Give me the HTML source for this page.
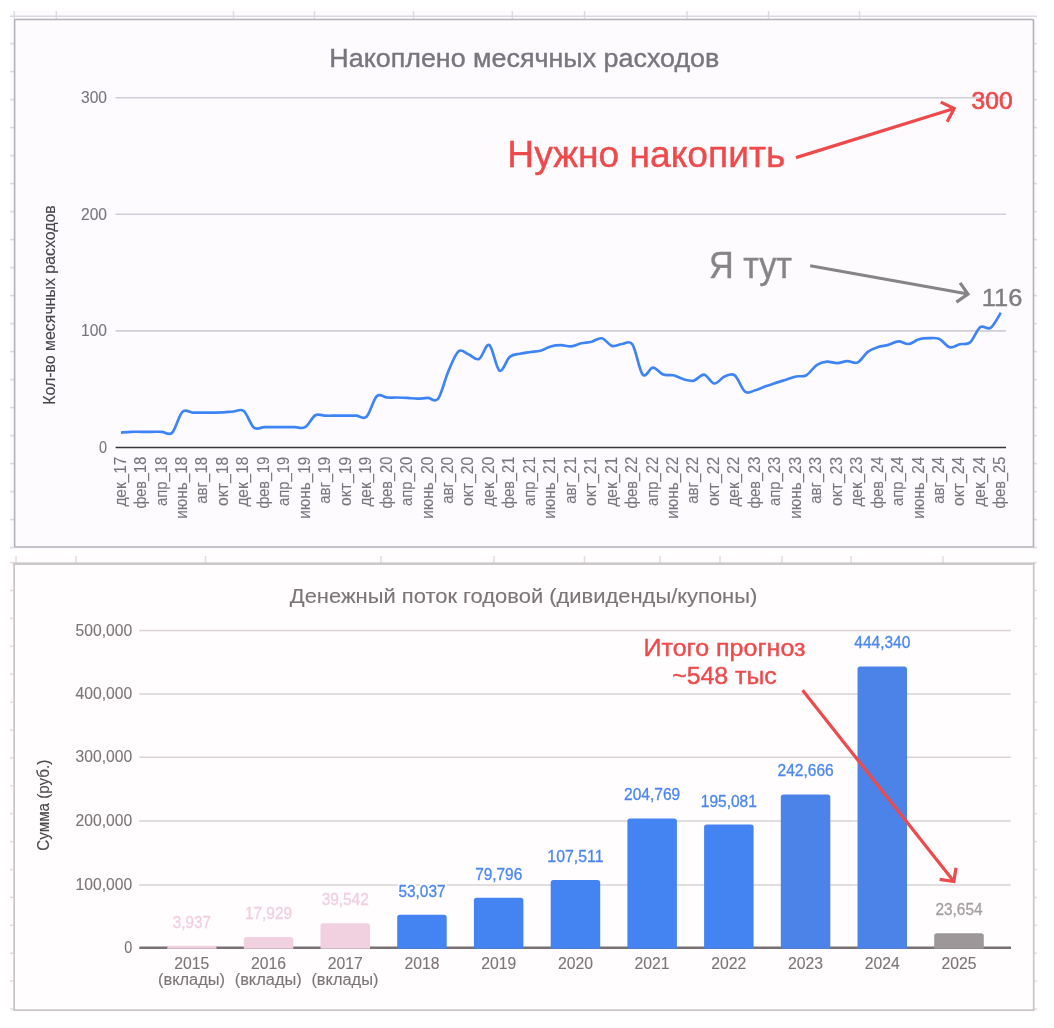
<!DOCTYPE html>
<html lang="ru"><head><meta charset="utf-8"><title>Charts</title>
<style>html,body{margin:0;padding:0;background:#fff;}body{width:1054px;height:1028px;overflow:hidden;}svg{display:block;}text{font-family:'Liberation Sans', sans-serif;}</style>
</head><body>
<svg width="1054" height="1028" viewBox="0 0 1054 1028">
<rect x="10" y="11" width="1027" height="539.5" fill="#fdfbfe"/>
<rect x="10" y="555.8" width="1027" height="456" fill="#fffdfe"/>
<g stroke="#dcdae0" stroke-width="1.5" fill="none">
<path d="M10,16.2H1037"/>
<path d="M14.3,11V19"/>
<path d="M56.3,11V19"/>
<path d="M233.5,11V19"/>
<path d="M314.5,11V19"/>
<path d="M413.5,11V19"/>
<path d="M512.3,11V19"/>
<path d="M584.5,11V19"/>
<path d="M687.0,11V19"/>
<path d="M768.5,11V19"/>
<path d="M859.5,11V19"/>
<path d="M10,43.6H14"/>
<path d="M1033,43.6H1037"/>
<path d="M10,71.6H14"/>
<path d="M1033,71.6H1037"/>
<path d="M10,99.6H14"/>
<path d="M1033,99.6H1037"/>
<path d="M10,127.6H14"/>
<path d="M1033,127.6H1037"/>
<path d="M10,155.6H14"/>
<path d="M1033,155.6H1037"/>
<path d="M10,183.6H14"/>
<path d="M1033,183.6H1037"/>
<path d="M10,211.6H14"/>
<path d="M1033,211.6H1037"/>
<path d="M10,239.6H14"/>
<path d="M1033,239.6H1037"/>
<path d="M10,267.6H14"/>
<path d="M1033,267.6H1037"/>
<path d="M10,295.6H14"/>
<path d="M1033,295.6H1037"/>
<path d="M10,323.6H14"/>
<path d="M1033,323.6H1037"/>
<path d="M10,351.6H14"/>
<path d="M1033,351.6H1037"/>
<path d="M10,379.6H14"/>
<path d="M1033,379.6H1037"/>
<path d="M10,407.6H14"/>
<path d="M1033,407.6H1037"/>
<path d="M10,435.6H14"/>
<path d="M1033,435.6H1037"/>
<path d="M10,463.6H14"/>
<path d="M1033,463.6H1037"/>
<path d="M10,491.6H14"/>
<path d="M1033,491.6H1037"/>
<path d="M10,519.6H14"/>
<path d="M1033,519.6H1037"/>
<path d="M10,547.6H14"/>
<path d="M1033,547.6H1037"/>
</g>
<g stroke="#e3dde0" stroke-width="1.5" fill="none">
<path d="M16.0,556V563"/>
<path d="M76.0,556V563"/>
<path d="M205.5,556V563"/>
<path d="M381.0,556V563"/>
<path d="M494.0,556V563"/>
<path d="M584.5,556V563"/>
<path d="M660.0,556V563"/>
<path d="M720.0,556V563"/>
<path d="M782.0,556V563"/>
<path d="M851.0,556V563"/>
<path d="M943.0,556V563"/>
<path d="M10,562.6H14"/>
<path d="M1033,562.6H1037"/>
<path d="M10,590.5H14"/>
<path d="M1033,590.5H1037"/>
<path d="M10,618.4H14"/>
<path d="M1033,618.4H1037"/>
<path d="M10,646.3H14"/>
<path d="M1033,646.3H1037"/>
<path d="M10,674.2H14"/>
<path d="M1033,674.2H1037"/>
<path d="M10,702.1H14"/>
<path d="M1033,702.1H1037"/>
<path d="M10,730.0H14"/>
<path d="M1033,730.0H1037"/>
<path d="M10,757.9H14"/>
<path d="M1033,757.9H1037"/>
<path d="M10,785.8H14"/>
<path d="M1033,785.8H1037"/>
<path d="M10,813.7H14"/>
<path d="M1033,813.7H1037"/>
<path d="M10,841.6H14"/>
<path d="M1033,841.6H1037"/>
<path d="M10,869.5H14"/>
<path d="M1033,869.5H1037"/>
<path d="M10,897.4H14"/>
<path d="M1033,897.4H1037"/>
<path d="M10,925.3H14"/>
<path d="M1033,925.3H1037"/>
<path d="M10,953.2H14"/>
<path d="M1033,953.2H1037"/>
<path d="M10,981.1H14"/>
<path d="M1033,981.1H1037"/>
<path d="M10,1009.0H14"/>
<path d="M1033,1009.0H1037"/>
</g>
<rect x="14.6" y="19.5" width="1018.9" height="527.5" rx="0.8" fill="#fdfbfe" stroke="#b3b1b9" stroke-width="1.6"/>
<path d="M115.6,97.7H1006" stroke="#d0ced6" stroke-width="1.6"/>
<path d="M115.6,214.3H1006" stroke="#d0ced6" stroke-width="1.6"/>
<path d="M115.6,330.9H1006" stroke="#d0ced6" stroke-width="1.6"/>
<path d="M115.6,447.5H1006" stroke="#37363b" stroke-width="1.5"/>
<text x="329.3" y="67" font-size="26.5" fill="#78767d" textLength="390" lengthAdjust="spacingAndGlyphs" stroke="#78767d" stroke-width="0.4">Накоплено месячных расходов</text>
<text x="107" y="103.0" font-size="16" fill="#78767d" text-anchor="end" textLength="26.0" lengthAdjust="spacingAndGlyphs" stroke="#78767d" stroke-width="0.12">300</text>
<text x="107" y="219.6" font-size="16" fill="#78767d" text-anchor="end" textLength="26.0" lengthAdjust="spacingAndGlyphs" stroke="#78767d" stroke-width="0.12">200</text>
<text x="107" y="336.2" font-size="16" fill="#78767d" text-anchor="end" textLength="26.0" lengthAdjust="spacingAndGlyphs" stroke="#78767d" stroke-width="0.12">100</text>
<text x="107" y="452.9" font-size="16" fill="#78767d" text-anchor="end" textLength="8.0" lengthAdjust="spacingAndGlyphs" stroke="#78767d" stroke-width="0.12">0</text>
<text transform="translate(55,305) rotate(-90)" font-size="16" fill="#47464c" text-anchor="middle" textLength="199.5" lengthAdjust="spacingAndGlyphs" stroke="#47464c" stroke-width="0.12">Кол-во месячных расходов</text>
<g font-size="15.6" fill="#78767d" stroke="#78767d" stroke-width="0.12" text-anchor="end">
<text transform="translate(125.60,456.8) rotate(-90)" textLength="49.8" lengthAdjust="spacingAndGlyphs">дек_17</text>
<text transform="translate(146.06,456.8) rotate(-90)" textLength="51.8" lengthAdjust="spacingAndGlyphs">фев_18</text>
<text transform="translate(166.52,456.8) rotate(-90)" textLength="49.3" lengthAdjust="spacingAndGlyphs">апр_18</text>
<text transform="translate(186.98,456.8) rotate(-90)" textLength="62.0" lengthAdjust="spacingAndGlyphs">июнь_18</text>
<text transform="translate(207.44,456.8) rotate(-90)" textLength="47.0" lengthAdjust="spacingAndGlyphs">авг_18</text>
<text transform="translate(227.90,456.8) rotate(-90)" textLength="49.2" lengthAdjust="spacingAndGlyphs">окт_18</text>
<text transform="translate(248.36,456.8) rotate(-90)" textLength="49.8" lengthAdjust="spacingAndGlyphs">дек_18</text>
<text transform="translate(268.82,456.8) rotate(-90)" textLength="51.8" lengthAdjust="spacingAndGlyphs">фев_19</text>
<text transform="translate(289.28,456.8) rotate(-90)" textLength="49.3" lengthAdjust="spacingAndGlyphs">апр_19</text>
<text transform="translate(309.74,456.8) rotate(-90)" textLength="62.0" lengthAdjust="spacingAndGlyphs">июнь_19</text>
<text transform="translate(330.20,456.8) rotate(-90)" textLength="47.0" lengthAdjust="spacingAndGlyphs">авг_19</text>
<text transform="translate(350.66,456.8) rotate(-90)" textLength="49.2" lengthAdjust="spacingAndGlyphs">окт_19</text>
<text transform="translate(371.12,456.8) rotate(-90)" textLength="49.8" lengthAdjust="spacingAndGlyphs">дек_19</text>
<text transform="translate(391.58,456.8) rotate(-90)" textLength="51.8" lengthAdjust="spacingAndGlyphs">фев_20</text>
<text transform="translate(412.04,456.8) rotate(-90)" textLength="49.3" lengthAdjust="spacingAndGlyphs">апр_20</text>
<text transform="translate(432.50,456.8) rotate(-90)" textLength="62.0" lengthAdjust="spacingAndGlyphs">июнь_20</text>
<text transform="translate(452.96,456.8) rotate(-90)" textLength="47.0" lengthAdjust="spacingAndGlyphs">авг_20</text>
<text transform="translate(473.42,456.8) rotate(-90)" textLength="49.2" lengthAdjust="spacingAndGlyphs">окт_20</text>
<text transform="translate(493.88,456.8) rotate(-90)" textLength="49.8" lengthAdjust="spacingAndGlyphs">дек_20</text>
<text transform="translate(514.34,456.8) rotate(-90)" textLength="51.8" lengthAdjust="spacingAndGlyphs">фев_21</text>
<text transform="translate(534.80,456.8) rotate(-90)" textLength="49.3" lengthAdjust="spacingAndGlyphs">апр_21</text>
<text transform="translate(555.26,456.8) rotate(-90)" textLength="62.0" lengthAdjust="spacingAndGlyphs">июнь_21</text>
<text transform="translate(575.72,456.8) rotate(-90)" textLength="47.0" lengthAdjust="spacingAndGlyphs">авг_21</text>
<text transform="translate(596.18,456.8) rotate(-90)" textLength="49.2" lengthAdjust="spacingAndGlyphs">окт_21</text>
<text transform="translate(616.64,456.8) rotate(-90)" textLength="49.8" lengthAdjust="spacingAndGlyphs">дек_21</text>
<text transform="translate(637.10,456.8) rotate(-90)" textLength="51.8" lengthAdjust="spacingAndGlyphs">фев_22</text>
<text transform="translate(657.56,456.8) rotate(-90)" textLength="49.3" lengthAdjust="spacingAndGlyphs">апр_22</text>
<text transform="translate(678.02,456.8) rotate(-90)" textLength="62.0" lengthAdjust="spacingAndGlyphs">июнь_22</text>
<text transform="translate(698.48,456.8) rotate(-90)" textLength="47.0" lengthAdjust="spacingAndGlyphs">авг_22</text>
<text transform="translate(718.94,456.8) rotate(-90)" textLength="49.2" lengthAdjust="spacingAndGlyphs">окт_22</text>
<text transform="translate(739.40,456.8) rotate(-90)" textLength="49.8" lengthAdjust="spacingAndGlyphs">дек_22</text>
<text transform="translate(759.86,456.8) rotate(-90)" textLength="51.8" lengthAdjust="spacingAndGlyphs">фев_23</text>
<text transform="translate(780.32,456.8) rotate(-90)" textLength="49.3" lengthAdjust="spacingAndGlyphs">апр_23</text>
<text transform="translate(800.78,456.8) rotate(-90)" textLength="62.0" lengthAdjust="spacingAndGlyphs">июнь_23</text>
<text transform="translate(821.24,456.8) rotate(-90)" textLength="47.0" lengthAdjust="spacingAndGlyphs">авг_23</text>
<text transform="translate(841.70,456.8) rotate(-90)" textLength="49.2" lengthAdjust="spacingAndGlyphs">окт_23</text>
<text transform="translate(862.16,456.8) rotate(-90)" textLength="49.8" lengthAdjust="spacingAndGlyphs">дек_23</text>
<text transform="translate(882.62,456.8) rotate(-90)" textLength="51.8" lengthAdjust="spacingAndGlyphs">фев_24</text>
<text transform="translate(903.08,456.8) rotate(-90)" textLength="49.3" lengthAdjust="spacingAndGlyphs">апр_24</text>
<text transform="translate(923.54,456.8) rotate(-90)" textLength="62.0" lengthAdjust="spacingAndGlyphs">июнь_24</text>
<text transform="translate(944.00,456.8) rotate(-90)" textLength="47.0" lengthAdjust="spacingAndGlyphs">авг_24</text>
<text transform="translate(964.46,456.8) rotate(-90)" textLength="49.2" lengthAdjust="spacingAndGlyphs">окт_24</text>
<text transform="translate(984.92,456.8) rotate(-90)" textLength="49.8" lengthAdjust="spacingAndGlyphs">дек_24</text>
<text transform="translate(1005.38,456.8) rotate(-90)" textLength="51.8" lengthAdjust="spacingAndGlyphs">фев_25</text>
</g>
<path d="M121.00,432.60C122.70,432.47 127.82,431.93 131.23,431.80C134.64,431.67 138.05,431.80 141.46,431.80C144.87,431.80 148.28,431.80 151.69,431.80C155.10,431.80 158.51,431.65 161.92,431.80C165.33,431.95 168.74,436.02 172.15,432.70C175.56,429.38 178.97,415.25 182.38,411.90C185.79,408.55 189.20,412.48 192.61,412.60C196.02,412.72 199.43,412.60 202.84,412.60C206.25,412.60 209.66,412.63 213.07,412.60C216.48,412.57 219.89,412.58 223.30,412.40C226.71,412.22 230.12,411.73 233.53,411.50C236.94,411.27 240.35,408.32 243.76,411.00C247.17,413.68 250.58,424.92 253.99,427.60C257.40,430.28 260.81,427.18 264.22,427.10C267.63,427.02 271.04,427.10 274.45,427.10C277.86,427.10 281.27,427.08 284.68,427.10C288.09,427.12 291.50,427.18 294.91,427.20C298.32,427.22 301.73,429.20 305.14,427.20C308.55,425.20 311.96,417.12 315.37,415.20C318.78,413.28 322.19,415.62 325.60,415.70C329.01,415.78 332.42,415.70 335.83,415.70C339.24,415.70 342.65,415.70 346.06,415.70C349.47,415.70 352.88,415.53 356.29,415.70C359.70,415.87 363.11,419.95 366.52,416.70C369.93,413.45 373.34,399.40 376.75,396.20C380.16,393.00 383.57,397.28 386.98,397.50C390.39,397.72 393.80,397.43 397.21,397.50C400.62,397.57 404.03,397.70 407.44,397.90C410.85,398.10 414.26,398.70 417.67,398.70C421.08,398.70 424.49,397.90 427.90,397.90C431.31,397.90 434.72,403.15 438.13,398.70C441.54,394.25 444.95,379.12 448.36,371.20C451.77,363.28 455.18,353.97 458.59,351.20C462.00,348.43 465.41,353.30 468.82,354.60C472.23,355.90 475.64,360.60 479.05,359.00C482.46,357.40 485.87,343.07 489.28,345.00C492.69,346.93 496.10,368.62 499.51,370.60C502.92,372.58 506.33,359.72 509.74,356.90C513.15,354.08 516.56,354.52 519.97,353.70C523.38,352.88 526.79,352.50 530.20,352.00C533.61,351.50 537.02,351.62 540.43,350.70C543.84,349.78 547.25,347.42 550.66,346.50C554.07,345.58 557.48,345.23 560.89,345.20C564.30,345.17 567.71,346.62 571.12,346.30C574.53,345.98 577.94,344.07 581.35,343.30C584.76,342.53 588.17,342.53 591.58,341.70C594.99,340.87 598.40,337.60 601.81,338.30C605.22,339.00 608.63,344.95 612.04,345.90C615.45,346.85 618.86,344.23 622.27,344.00C625.68,343.77 629.09,339.40 632.50,344.50C635.91,349.60 639.32,370.73 642.73,374.60C646.14,378.47 649.55,367.70 652.96,367.70C656.37,367.70 659.78,373.33 663.19,374.60C666.60,375.87 670.01,374.52 673.42,375.30C676.83,376.08 680.24,378.42 683.65,379.30C687.06,380.18 690.47,381.38 693.88,380.60C697.29,379.82 700.70,374.12 704.11,374.60C707.52,375.08 710.93,383.18 714.34,383.50C717.75,383.82 721.16,377.87 724.57,376.50C727.98,375.13 731.39,372.77 734.80,375.30C738.21,377.83 741.62,389.20 745.03,391.70C748.44,394.20 751.85,391.20 755.26,390.30C758.67,389.40 762.08,387.53 765.49,386.30C768.90,385.07 772.31,384.00 775.72,382.90C779.13,381.80 782.54,380.77 785.95,379.70C789.36,378.63 792.77,377.25 796.18,376.50C799.59,375.75 803.00,377.10 806.41,375.20C809.82,373.30 813.23,367.37 816.64,365.10C820.05,362.83 823.46,361.93 826.87,361.60C830.28,361.27 833.69,363.18 837.10,363.10C840.51,363.02 843.92,361.20 847.33,361.10C850.74,361.00 854.15,364.05 857.56,362.50C860.97,360.95 864.38,354.38 867.79,351.80C871.20,349.22 874.61,348.15 878.02,347.00C881.43,345.85 884.84,345.85 888.25,344.90C891.66,343.95 895.07,341.45 898.48,341.30C901.89,341.15 905.30,344.35 908.71,344.00C912.12,343.65 915.53,340.18 918.94,339.20C922.35,338.22 925.76,338.13 929.17,338.10C932.58,338.07 935.99,337.48 939.40,339.00C942.81,340.52 946.22,346.33 949.63,347.20C953.04,348.07 956.45,345.00 959.86,344.20C963.27,343.40 966.68,345.23 970.09,342.40C973.50,339.57 976.91,329.62 980.32,327.20C983.73,324.78 987.14,330.30 990.55,327.90C993.96,325.50 999.08,315.32 1000.78,312.80" fill="none" stroke="#3f84f7" stroke-width="2.7" stroke-linecap="butt" stroke-linejoin="round"/>
<text x="507.3" y="166.8" font-size="36" fill="#ee4a4c" textLength="278" lengthAdjust="spacingAndGlyphs" stroke="#ee4a4c" stroke-width="0.4">Нужно накопить</text>
<path d="M796,157.6L954.2,108.5M940.8,102.1L954.2,108.5L947.2,121.8" fill="none" stroke="#ee4a4c" stroke-width="3.2" stroke-linecap="butt" stroke-linejoin="miter"/>
<text x="971.6" y="108.7" font-size="24" fill="#ee4a4c" stroke="#ee4a4c" stroke-width="0.7" textLength="41" lengthAdjust="spacingAndGlyphs">300</text>
<text x="709" y="277.8" font-size="36" fill="#858585" textLength="83" lengthAdjust="spacingAndGlyphs" stroke="#858585" stroke-width="0.4">Я тут</text>
<path d="M810.2,265.7L968.0,294.05M960.1,282.8L968.0,294.05L956.4,302.1" fill="none" stroke="#858585" stroke-width="3.2" stroke-linecap="butt" stroke-linejoin="miter"/>
<text x="981.8" y="305.8" font-size="24" fill="#7e7e80" textLength="40.6" lengthAdjust="spacingAndGlyphs" stroke="#7e7e80" stroke-width="0.4">116</text>
<rect x="14.1" y="563.7" width="1019.6" height="446.4" fill="#fffdfe" stroke="#c9c5c7" stroke-width="1.7"/>
<path d="M13.2,563.6H1034.5" stroke="#c9c5c7" stroke-width="2.4"/>
<path d="M139.3,885.0H1010.7" stroke="#d9d3d6" stroke-width="1.5"/>
<path d="M139.3,821.1H1010.7" stroke="#d9d3d6" stroke-width="1.5"/>
<path d="M139.3,757.3H1010.7" stroke="#d9d3d6" stroke-width="1.5"/>
<path d="M139.3,694.1H1010.7" stroke="#d9d3d6" stroke-width="1.5"/>
<path d="M139.3,630.6H1010.7" stroke="#d9d3d6" stroke-width="1.5"/>
<path d="M139.3,947.8H1011" stroke="#777174" stroke-width="2.4"/>
<text x="289.8" y="603.4" font-size="20.5" fill="#7c7578" textLength="467.5" lengthAdjust="spacingAndGlyphs" stroke="#7c7578" stroke-width="0.12">Денежный поток годовой (дивиденды/купоны)</text>
<text x="132.2" y="952.7" font-size="16" fill="#7c7578" text-anchor="end" textLength="8.0" lengthAdjust="spacingAndGlyphs" stroke="#7c7578" stroke-width="0.12">0</text>
<text x="132.2" y="889.9" font-size="16" fill="#7c7578" text-anchor="end" textLength="56.6" lengthAdjust="spacingAndGlyphs" stroke="#7c7578" stroke-width="0.12">100,000</text>
<text x="132.2" y="826.0" font-size="16" fill="#7c7578" text-anchor="end" textLength="56.6" lengthAdjust="spacingAndGlyphs" stroke="#7c7578" stroke-width="0.12">200,000</text>
<text x="132.2" y="762.2" font-size="16" fill="#7c7578" text-anchor="end" textLength="56.6" lengthAdjust="spacingAndGlyphs" stroke="#7c7578" stroke-width="0.12">300,000</text>
<text x="132.2" y="699.0" font-size="16" fill="#7c7578" text-anchor="end" textLength="56.6" lengthAdjust="spacingAndGlyphs" stroke="#7c7578" stroke-width="0.12">400,000</text>
<text x="132.2" y="635.5" font-size="16" fill="#7c7578" text-anchor="end" textLength="56.6" lengthAdjust="spacingAndGlyphs" stroke="#7c7578" stroke-width="0.12">500,000</text>
<text transform="translate(49,805.2) rotate(-90)" font-size="16" fill="#4a4849" text-anchor="middle" textLength="91" lengthAdjust="spacingAndGlyphs" stroke="#4a4849" stroke-width="0.12">Сумма (руб.)</text>
<path d="M167.1,948.8V948.6Q167.1,945.8 169.9,945.8H213.8Q216.6,945.8 216.6,948.6V948.8Z" fill="#f1d0df"/>
<text x="191.8" y="927.8" font-size="16" fill="#fffdfe" stroke="#fffdfe" stroke-width="4" stroke-linejoin="round" text-anchor="middle" textLength="38.1" lengthAdjust="spacingAndGlyphs">3,937</text>
<text x="191.8" y="927.8" font-size="16" fill="#f2cfe0" stroke="#f2cfe0" stroke-width="0.3" text-anchor="middle" textLength="38.1" lengthAdjust="spacingAndGlyphs">3,937</text>
<text x="191.8" y="969.4" font-size="16" fill="#7c7578" text-anchor="middle" textLength="35" lengthAdjust="spacingAndGlyphs" stroke="#7c7578" stroke-width="0.12">2015</text>
<text x="191.5" y="985.0" font-size="16" fill="#7c7578" text-anchor="middle" textLength="67" lengthAdjust="spacingAndGlyphs" stroke="#7c7578" stroke-width="0.12">(вклады)</text>
<path d="M243.8,948.8V939.7Q243.8,936.9 246.6,936.9H290.5Q293.3,936.9 293.3,939.7V948.8Z" fill="#f1d0df"/>
<text x="268.5" y="918.9" font-size="16" fill="#fffdfe" stroke="#fffdfe" stroke-width="4" stroke-linejoin="round" text-anchor="middle" textLength="47.1" lengthAdjust="spacingAndGlyphs">17,929</text>
<text x="268.5" y="918.9" font-size="16" fill="#f2cfe0" stroke="#f2cfe0" stroke-width="0.3" text-anchor="middle" textLength="47.1" lengthAdjust="spacingAndGlyphs">17,929</text>
<text x="268.5" y="969.4" font-size="16" fill="#7c7578" text-anchor="middle" textLength="35" lengthAdjust="spacingAndGlyphs" stroke="#7c7578" stroke-width="0.12">2016</text>
<text x="268.2" y="985.0" font-size="16" fill="#7c7578" text-anchor="middle" textLength="67" lengthAdjust="spacingAndGlyphs" stroke="#7c7578" stroke-width="0.12">(вклады)</text>
<path d="M320.5,948.8V926.0Q320.5,923.2 323.3,923.2H367.2Q370.0,923.2 370.0,926.0V948.8Z" fill="#f1d0df"/>
<text x="345.2" y="905.2" font-size="16" fill="#fffdfe" stroke="#fffdfe" stroke-width="4" stroke-linejoin="round" text-anchor="middle" textLength="47.1" lengthAdjust="spacingAndGlyphs">39,542</text>
<text x="345.2" y="905.2" font-size="16" fill="#f2cfe0" stroke="#f2cfe0" stroke-width="0.3" text-anchor="middle" textLength="47.1" lengthAdjust="spacingAndGlyphs">39,542</text>
<text x="345.2" y="969.4" font-size="16" fill="#7c7578" text-anchor="middle" textLength="35" lengthAdjust="spacingAndGlyphs" stroke="#7c7578" stroke-width="0.12">2017</text>
<text x="344.9" y="985.0" font-size="16" fill="#7c7578" text-anchor="middle" textLength="67" lengthAdjust="spacingAndGlyphs" stroke="#7c7578" stroke-width="0.12">(вклады)</text>
<path d="M397.2,948.8V917.5Q397.2,914.7 400.0,914.7H443.9Q446.7,914.7 446.7,917.5V948.8Z" fill="#4483f2"/>
<text x="422.0" y="896.7" font-size="16" fill="#fffdfe" stroke="#fffdfe" stroke-width="4" stroke-linejoin="round" text-anchor="middle" textLength="47.1" lengthAdjust="spacingAndGlyphs">53,037</text>
<text x="422.0" y="896.7" font-size="16" fill="#4a86f0" stroke="#4a86f0" stroke-width="0.3" text-anchor="middle" textLength="47.1" lengthAdjust="spacingAndGlyphs">53,037</text>
<text x="422.0" y="969.4" font-size="16" fill="#7c7578" text-anchor="middle" textLength="35" lengthAdjust="spacingAndGlyphs" stroke="#7c7578" stroke-width="0.12">2018</text>
<path d="M473.9,948.8V900.5Q473.9,897.7 476.7,897.7H520.6Q523.4,897.7 523.4,900.5V948.8Z" fill="#4483f2"/>
<text x="498.7" y="879.7" font-size="16" fill="#fffdfe" stroke="#fffdfe" stroke-width="4" stroke-linejoin="round" text-anchor="middle" textLength="47.1" lengthAdjust="spacingAndGlyphs">79,796</text>
<text x="498.7" y="879.7" font-size="16" fill="#4a86f0" stroke="#4a86f0" stroke-width="0.3" text-anchor="middle" textLength="47.1" lengthAdjust="spacingAndGlyphs">79,796</text>
<text x="498.7" y="969.4" font-size="16" fill="#7c7578" text-anchor="middle" textLength="35" lengthAdjust="spacingAndGlyphs" stroke="#7c7578" stroke-width="0.12">2019</text>
<path d="M550.7,948.8V882.9Q550.7,880.1 553.5,880.1H597.4Q600.2,880.1 600.2,882.9V948.8Z" fill="#4483f2"/>
<text x="575.4" y="862.1" font-size="16" fill="#fffdfe" stroke="#fffdfe" stroke-width="4" stroke-linejoin="round" text-anchor="middle" textLength="56.1" lengthAdjust="spacingAndGlyphs">107,511</text>
<text x="575.4" y="862.1" font-size="16" fill="#4a86f0" stroke="#4a86f0" stroke-width="0.3" text-anchor="middle" textLength="56.1" lengthAdjust="spacingAndGlyphs">107,511</text>
<text x="575.4" y="969.4" font-size="16" fill="#7c7578" text-anchor="middle" textLength="35" lengthAdjust="spacingAndGlyphs" stroke="#7c7578" stroke-width="0.12">2020</text>
<path d="M627.4,948.8V821.2Q627.4,818.4 630.2,818.4H674.1Q676.9,818.4 676.9,821.2V948.8Z" fill="#4483f2"/>
<text x="652.1" y="800.4" font-size="16" fill="#fffdfe" stroke="#fffdfe" stroke-width="4" stroke-linejoin="round" text-anchor="middle" textLength="56.1" lengthAdjust="spacingAndGlyphs">204,769</text>
<text x="652.1" y="800.4" font-size="16" fill="#4a86f0" stroke="#4a86f0" stroke-width="0.3" text-anchor="middle" textLength="56.1" lengthAdjust="spacingAndGlyphs">204,769</text>
<text x="652.1" y="969.4" font-size="16" fill="#7c7578" text-anchor="middle" textLength="35" lengthAdjust="spacingAndGlyphs" stroke="#7c7578" stroke-width="0.12">2021</text>
<path d="M704.1,948.8V827.3Q704.1,824.5 706.9,824.5H750.8Q753.6,824.5 753.6,827.3V948.8Z" fill="#4483f2"/>
<text x="728.8" y="806.5" font-size="16" fill="#fffdfe" stroke="#fffdfe" stroke-width="4" stroke-linejoin="round" text-anchor="middle" textLength="56.1" lengthAdjust="spacingAndGlyphs">195,081</text>
<text x="728.8" y="806.5" font-size="16" fill="#4a86f0" stroke="#4a86f0" stroke-width="0.3" text-anchor="middle" textLength="56.1" lengthAdjust="spacingAndGlyphs">195,081</text>
<text x="728.8" y="969.4" font-size="16" fill="#7c7578" text-anchor="middle" textLength="35" lengthAdjust="spacingAndGlyphs" stroke="#7c7578" stroke-width="0.12">2022</text>
<path d="M780.8,948.8V797.2Q780.8,794.4 783.6,794.4H827.5Q830.3,794.4 830.3,797.2V948.8Z" fill="#4b83e9"/>
<text x="805.6" y="776.4" font-size="16" fill="#fffdfe" stroke="#fffdfe" stroke-width="4" stroke-linejoin="round" text-anchor="middle" textLength="56.1" lengthAdjust="spacingAndGlyphs">242,666</text>
<text x="805.6" y="776.4" font-size="16" fill="#4a86f0" stroke="#4a86f0" stroke-width="0.3" text-anchor="middle" textLength="56.1" lengthAdjust="spacingAndGlyphs">242,666</text>
<text x="805.6" y="969.4" font-size="16" fill="#7c7578" text-anchor="middle" textLength="35" lengthAdjust="spacingAndGlyphs" stroke="#7c7578" stroke-width="0.12">2023</text>
<path d="M857.5,948.8V669.2Q857.5,666.4 860.3,666.4H904.2Q907.0,666.4 907.0,669.2V948.8Z" fill="#4b83e9"/>
<text x="882.3" y="648.4" font-size="16" fill="#fffdfe" stroke="#fffdfe" stroke-width="4" stroke-linejoin="round" text-anchor="middle" textLength="56.1" lengthAdjust="spacingAndGlyphs">444,340</text>
<text x="882.3" y="648.4" font-size="16" fill="#4a86f0" stroke="#4a86f0" stroke-width="0.3" text-anchor="middle" textLength="56.1" lengthAdjust="spacingAndGlyphs">444,340</text>
<text x="882.3" y="969.4" font-size="16" fill="#7c7578" text-anchor="middle" textLength="35" lengthAdjust="spacingAndGlyphs" stroke="#7c7578" stroke-width="0.12">2024</text>
<path d="M934.2,948.8V936.1Q934.2,933.3 937.0,933.3H981.0Q983.8,933.3 983.8,936.1V948.8Z" fill="#9d979a"/>
<text x="959.0" y="915.3" font-size="16" fill="#fffdfe" stroke="#fffdfe" stroke-width="4" stroke-linejoin="round" text-anchor="middle" textLength="47.1" lengthAdjust="spacingAndGlyphs">23,654</text>
<text x="959.0" y="915.3" font-size="16" fill="#a39ea0" stroke="#a39ea0" stroke-width="0.3" text-anchor="middle" textLength="47.1" lengthAdjust="spacingAndGlyphs">23,654</text>
<text x="959.0" y="969.4" font-size="16" fill="#7c7578" text-anchor="middle" textLength="35" lengthAdjust="spacingAndGlyphs" stroke="#7c7578" stroke-width="0.12">2025</text>
<text x="724.5" y="655.8" font-size="24" fill="#ee4a4c" text-anchor="middle" textLength="162" lengthAdjust="spacingAndGlyphs" stroke="#ee4a4c" stroke-width="0.4">Итого прогноз</text>
<text x="724.5" y="683.5" font-size="24" fill="#ee4a4c" text-anchor="middle" textLength="104.6" lengthAdjust="spacingAndGlyphs" stroke="#ee4a4c" stroke-width="0.4">~548 тыс</text>
<path d="M802.6,690.3L953.9,881.5M939.6,879.4L953.9,881.5L956,867.7" fill="none" stroke="#ee4a4c" stroke-width="3.2" stroke-linecap="butt" stroke-linejoin="miter"/>
</svg>
</body></html>
